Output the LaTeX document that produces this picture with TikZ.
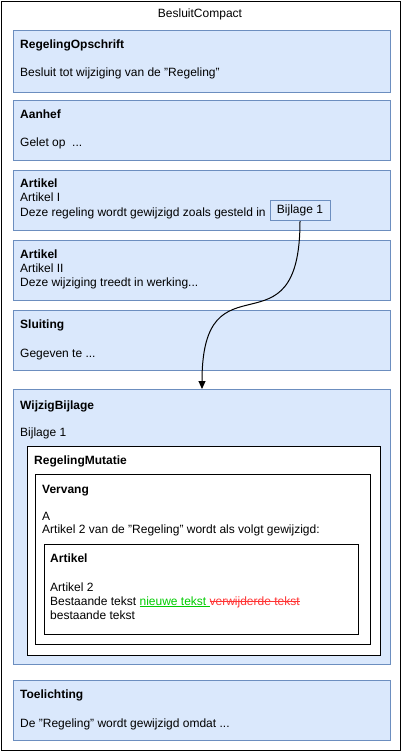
\documentclass[tikz,border=0pt]{standalone}
\usepackage{fontspec}
\setmainfont{Liberation Sans}
\usetikzlibrary{arrows.meta}
\definecolor{blkfill}{HTML}{DAE8FC}
\definecolor{blkline}{HTML}{6C8EBF}
\definecolor{newgreen}{HTML}{00CC00}
\definecolor{delred}{HTML}{FF3333}
\newsavebox{\markbox}
\newcommand{\ultext}[1]{\sbox{\markbox}{#1}\rlap{\rule[-1.8pt]{\wd\markbox}{0.9pt}}\usebox{\markbox}}
\newcommand{\sttext}[1]{\sbox{\markbox}{#1}\rlap{\rule[3.2pt]{\wd\markbox}{0.9pt}}\usebox{\markbox}}
\tikzset{
  outer/.style={draw, line width=1.2pt, rectangle, anchor=north west, inner sep=0pt},
  blk/.style={draw=blkline, fill=blkfill, line width=1pt, rectangle, anchor=north west, inner sep=0pt, minimum width=377pt, minimum height=60pt},
  wblk/.style={draw=black, fill=white, line width=1pt, rectangle, anchor=north west, inner sep=0pt},
  refblk/.style={draw=blkline, fill=blkfill, line width=1pt, rectangle, minimum width=60pt, minimum height=20pt, inner sep=0pt, font=\fontsize{12}{14}\selectfont},
  ttl/.style={anchor=base west, inner sep=0pt, font=\fontsize{12}{14}\selectfont\bfseries},
  txt/.style={anchor=base west, inner sep=0pt, font=\fontsize{12}{14}\selectfont},
  arr/.style={-{Triangle[length=8pt, width=7pt]}, line width=1pt},
}

\begin{document}
\begin{tikzpicture}[x=1pt, y=-1pt]
\useasboundingbox (0,0) rectangle (401,751);

% BesluitCompact
\node[outer, minimum width=399pt, minimum height=749pt] (besluit) at (1,1) {};
\node[font=\fontsize{12}{14}\selectfont] (besluittitle) at (200,14) {BesluitCompact};

% RegelingOpschrift
\node[blk, minimum height=62pt] (opschrift) at (13,30) {};
\node[ttl] (opschrifttitle) at (20,49) {RegelingOpschrift};
\node[txt] (opschrifttext) at (20,77) {Besluit tot wijziging van de "Regeling"};

% Aanhef
\node[blk] (aanhef) at (13,100) {};
\node[ttl] (aanheftitle) at (20,119) {Aanhef};
\node[txt] (aanheftext) at (20,147) {Gelet op\ \ ...};

% Artikel I
\node[blk] (artikela) at (13,170) {};
\node[ttl] (artikelatitle) at (20,188) {Artikel};
\node[txt] (artikelanum) at (20,202) {Artikel I};
\node[txt] (artikelatext) at (20,216) {Deze regeling wordt gewijzigd zoals gesteld in};
\node[refblk] (bijlref) at (300,210.7) {Bijlage 1};

% Artikel II
\node[blk] (artikelb) at (13,240) {};
\node[ttl] (artikelbtitle) at (20,258) {Artikel};
\node[txt] (artikelbnum) at (20,272) {Artikel II};
\node[txt] (artikelbtext) at (20,286) {Deze wijziging treedt in werking...};

% Sluiting
\node[blk] (sluiting) at (13,310) {};
\node[ttl] (sluitingtitle) at (20,328) {Sluiting};
\node[txt] (sluitingtext) at (20,357) {Gegeven te ...};

% WijzigBijlage
\node[blk, minimum height=275pt] (wijzig) at (13,389) {};
\node[ttl] (wijzigtitle) at (20,409) {WijzigBijlage};
\node[txt] (wijzigtext) at (20,436) {Bijlage 1};

\node[wblk, minimum width=353pt, minimum height=209pt] (mutatie) at (26.7,445.7) {};
\node[ttl] (mutatietitle) at (34,464) {RegelingMutatie};

\node[wblk, minimum width=335pt, minimum height=170pt] (vervang) at (35.3,474.3) {};
\node[ttl] (vervangtitle) at (42,493) {Vervang};
\node[txt] (vervanga) at (42,520) {A};
\node[txt] (vervangtext) at (42,533) {Artikel 2 van de "Regeling" wordt als volgt gewijzigd:};

\node[wblk, minimum width=314pt, minimum height=90pt] (artikelc) at (43.7,544) {};
\node[ttl] (artikelctitle) at (50,562) {Artikel};
\node[txt] (artikelcnum) at (50,591) {Artikel 2};
\node[txt] (artikelctext) at (50,605) {Bestaande tekst {\color{newgreen}\ultext{nieuwe tekst\ }}{\color{delred}\sttext{verwijderde tekst}}};
\node[txt] (artikelcrest) at (50,619) {bestaande tekst};

% Toelichting
\node[blk] (toelichting) at (13,680) {};
\node[ttl] (toelichtingtitle) at (20,698) {Toelichting};
\node[txt] (toelichtingtext) at (20,727) {De "Regeling" wordt gewijzigd omdat ...};

% Arrows
\draw[arr] (bijlref.south) .. controls +(0,140) and +(0,-140) .. (wijzig.north);

\end{tikzpicture}
\end{document}
